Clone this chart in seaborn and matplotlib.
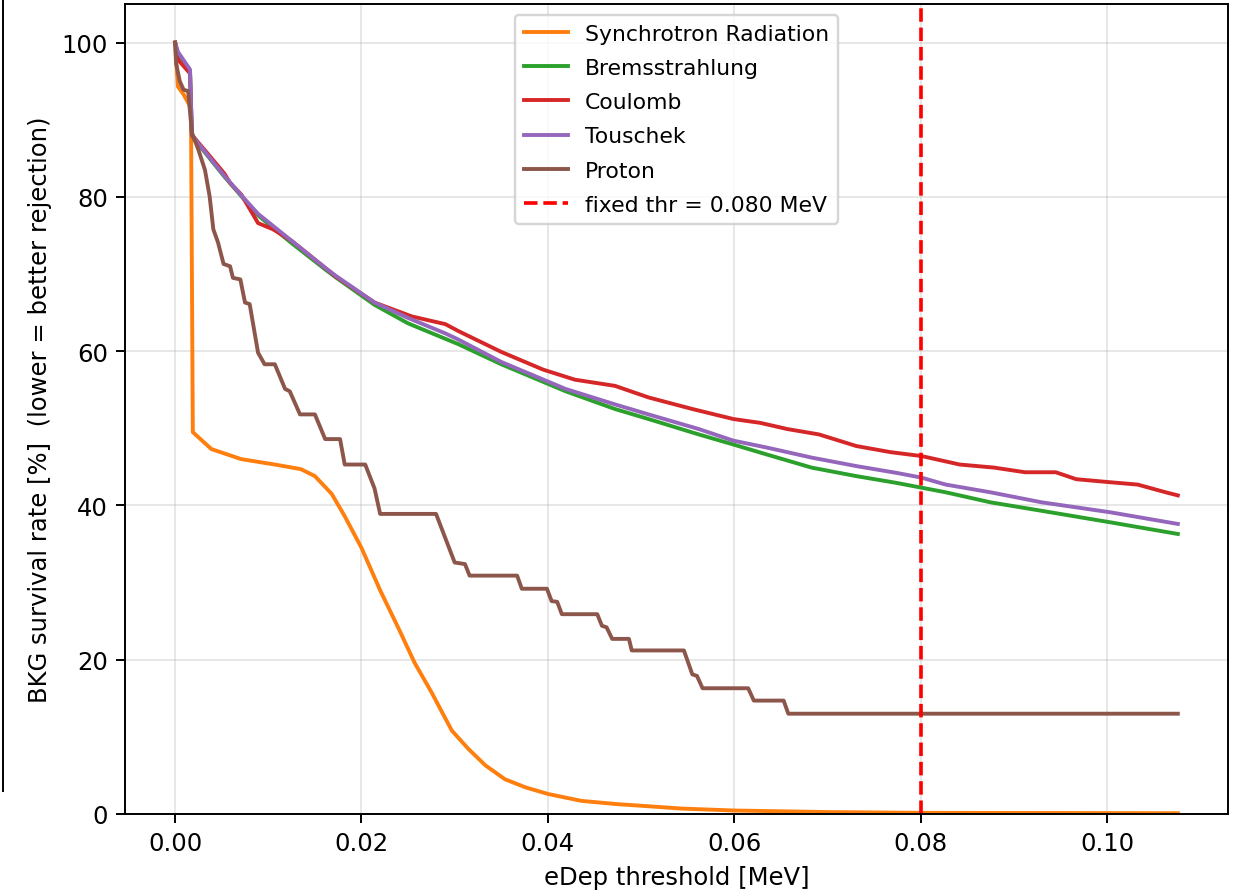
"""
BKG survival rate vs eDep threshold, one curve per background source.
"""

import numpy as np
import pandas as pd
import matplotlib.pyplot as plt
from matplotlib.lines import Line2D
import seaborn as sns

# --- values --------------------------------------------------------------
fixed_thr = 0.080

sr_x = [0, 0.0003, 0.0009, 0.0014, 0.0017, 0.0019, 0.0039, 0.0071, 0.0107, 0.0135,
        0.0150, 0.0168, 0.0182, 0.0200, 0.0220, 0.0240, 0.0257, 0.0275, 0.0297,
        0.0315, 0.0333, 0.0354, 0.0376, 0.0400, 0.0436, 0.0472, 0.0508, 0.0544,
        0.0600, 0.0700, 0.0800, 0.1076]
sr_y = [100, 94.3, 93.3, 92.2, 91.5, 49.5, 47.3, 46.0, 45.3, 44.7,
        43.8, 41.5, 38.6, 34.5, 29.0, 24.0, 19.6, 15.8, 10.8,
        8.4, 6.3, 4.5, 3.45, 2.6, 1.7, 1.3, 1.0, 0.7,
        0.45, 0.25, 0.15, 0.1]

# Bremsstrahlung and Touschek were read at the same thresholds
bt_x = [0, 0.0003, 0.0016, 0.0018, 0.0021, 0.0035, 0.0053, 0.0071, 0.0089, 0.0125,
        0.0161, 0.0172, 0.0214, 0.0250, 0.0290, 0.0304, 0.0350, 0.0419, 0.0472,
        0.0508, 0.0562, 0.0599, 0.0635, 0.0683, 0.0731, 0.0775, 0.0801, 0.0827,
        0.0875, 0.0930, 0.1004, 0.1076]
brems_y = [100, 98.5, 96.3, 88.0, 87.4, 85.3, 82.6, 80.1, 77.6, 74.0,
           70.6, 69.6, 66.0, 63.6, 61.6, 60.9, 58.3, 54.8, 52.5,
           51.2, 49.2, 47.9, 46.6, 44.9, 43.8, 42.9, 42.3, 41.7,
           40.4, 39.3, 37.8, 36.3]
tous_y = [100, 98.8, 96.5, 88.2, 87.5, 85.4, 82.7, 80.2, 77.8, 74.3,
          70.8, 69.8, 66.3, 64.3, 62.3, 61.5, 58.6, 55.1, 53.1,
          51.8, 49.9, 48.4, 47.5, 46.2, 45.1, 44.2, 43.6, 42.7,
          41.7, 40.4, 39.1, 37.6]

coul_x = [0, 0.0003, 0.0016, 0.0018, 0.0021, 0.0035, 0.0053, 0.0059, 0.0071, 0.0089,
          0.0105, 0.0125, 0.0161, 0.0172, 0.0214, 0.0254, 0.0290, 0.0304, 0.0350,
          0.0395, 0.0429, 0.0472, 0.0508, 0.0555, 0.0599, 0.0628, 0.0657, 0.0691,
          0.0731, 0.0768, 0.0801, 0.0842, 0.0879, 0.0912, 0.0945, 0.0967, 0.1004,
          0.1033, 0.1063, 0.1076]
coul_y = [100, 97.8, 96.0, 88.0, 87.6, 85.6, 83.0, 81.8, 80.3, 76.6,
          75.8, 74.3, 70.8, 69.7, 66.3, 64.5, 63.5, 62.6, 59.9,
          57.6, 56.3, 55.5, 54.0, 52.5, 51.2, 50.7, 49.9, 49.2,
          47.7, 46.9, 46.4, 45.3, 44.9, 44.3, 44.3, 43.4, 43.0,
          42.7, 41.7, 41.3]

prot_x = [0, 0.0001, 0.0005, 0.0009, 0.0014, 0.0018, 0.0025, 0.0032, 0.0037, 0.0041,
          0.0046, 0.0052, 0.0059, 0.0062, 0.0070, 0.0075, 0.0080, 0.0089, 0.0096,
          0.0107, 0.0118, 0.0123, 0.0134, 0.0150, 0.0161, 0.0177, 0.0182, 0.0204,
          0.0214, 0.0220, 0.0280, 0.0300, 0.0311, 0.0316, 0.0367, 0.0372, 0.0399,
          0.0404, 0.0410, 0.0415, 0.0453, 0.0458, 0.0463, 0.0469, 0.0487, 0.0490,
          0.0546, 0.0555, 0.0560, 0.0566, 0.0615, 0.0621, 0.0653, 0.0658, 0.1076]
prot_y = [100, 97.3, 95.0, 93.9, 93.7, 88.3, 86.1, 83.5, 80.1, 75.8,
          74.1, 71.3, 71.0, 69.5, 69.3, 66.3, 66.1, 59.8, 58.3,
          58.3, 55.1, 54.8, 51.8, 51.8, 48.6, 48.6, 45.3, 45.3,
          42.2, 38.9, 38.9, 32.6, 32.4, 30.9, 30.9, 29.2, 29.2,
          27.6, 27.5, 25.9, 25.9, 24.4, 24.2, 22.7, 22.7, 21.2,
          21.2, 18.1, 17.9, 16.3, 16.3, 14.7, 14.7, 13.0, 13.0]

series = [
    ("Synchrotron Radiation", sr_x, sr_y, "C1"),
    ("Bremsstrahlung", bt_x, brems_y, "C2"),
    ("Coulomb", coul_x, coul_y, "C3"),
    ("Touschek", bt_x, tous_y, "C4"),
    ("Proton", prot_x, prot_y, "C5"),
]

# --- figure ----------------------------------------------------------------
fig, ax = plt.subplots(figsize=(1235 / 175, 895 / 175), dpi=175)
fig.subplots_adjust(left=0.1012, right=0.9943, bottom=0.0894, top=0.9944)

for name, xs, ys, col in series:
    df = pd.DataFrame({"thr": xs, "surv": ys})
    sns.lineplot(data=df, x="thr", y="surv", ax=ax, color=col, lw=1.6,
                 estimator=None, sort=False, label=name)

ax.axvline(fixed_thr, color="red", ls="--", lw=1.5,
           label=f"fixed thr = {fixed_thr:.3f} MeV")

ax.set_ylim(0, 105)
ax.set_xlabel("eDep threshold [MeV]")
ax.set_ylabel("BKG survival rate [%]  (lower = better rejection)")
ax.grid(alpha=0.3)
ax.legend(loc="upper center", fontsize=9, labelspacing=0.65)

# edge of the neighbouring panel, visible at the left border of the crop
fig.add_artist(Line2D([3 / 1235, 3 / 1235], [(895 - 792) / 895, 1.0],
                      color="black", lw=0.8))

fig.savefig("out.png", dpi=175)
